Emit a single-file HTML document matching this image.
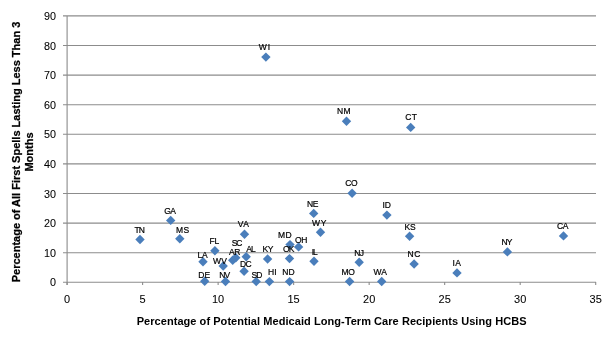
<!DOCTYPE html>
<html><head><meta charset="utf-8"><style>
html,body{margin:0;padding:0;background:#fff;}
svg{display:block;will-change:transform;}
text{font-family:"Liberation Sans",sans-serif;fill:#000;}
.tk{font-size:10px;stroke:#000;stroke-width:0.06px;}
.dl{font-size:8.5px;stroke:#000;stroke-width:0.2px;}
.at{font-size:11px;font-weight:bold;}
.yt{stroke:#000;stroke-width:0.25px;}
</style></head><body>
<svg width="614" height="339" viewBox="0 0 614 339">
<rect width="614" height="339" fill="#fff"/>
<line x1="63" y1="282.30" x2="596" y2="282.30" stroke="#8c8c8c" stroke-width="1.1"/>
<line x1="63" y1="252.70" x2="596" y2="252.70" stroke="#8c8c8c" stroke-width="1.1"/>
<line x1="63" y1="223.10" x2="596" y2="223.10" stroke="#8c8c8c" stroke-width="1.1"/>
<line x1="63" y1="193.50" x2="596" y2="193.50" stroke="#8c8c8c" stroke-width="1.1"/>
<line x1="63" y1="163.90" x2="596" y2="163.90" stroke="#8c8c8c" stroke-width="1.1"/>
<line x1="63" y1="134.30" x2="596" y2="134.30" stroke="#8c8c8c" stroke-width="1.1"/>
<line x1="63" y1="104.70" x2="596" y2="104.70" stroke="#8c8c8c" stroke-width="1.1"/>
<line x1="63" y1="75.10" x2="596" y2="75.10" stroke="#8c8c8c" stroke-width="1.1"/>
<line x1="63" y1="45.50" x2="596" y2="45.50" stroke="#8c8c8c" stroke-width="1.1"/>
<line x1="63" y1="15.90" x2="596" y2="15.90" stroke="#8c8c8c" stroke-width="1.1"/>
<line x1="67.1" y1="15.90" x2="67.1" y2="285" stroke="#8c8c8c" stroke-width="1.1"/>
<line x1="67.10" y1="282" x2="67.10" y2="285" stroke="#8c8c8c" stroke-width="1.1"/>
<line x1="142.61" y1="282" x2="142.61" y2="285" stroke="#8c8c8c" stroke-width="1.1"/>
<line x1="218.13" y1="282" x2="218.13" y2="285" stroke="#8c8c8c" stroke-width="1.1"/>
<line x1="293.64" y1="282" x2="293.64" y2="285" stroke="#8c8c8c" stroke-width="1.1"/>
<line x1="369.16" y1="282" x2="369.16" y2="285" stroke="#8c8c8c" stroke-width="1.1"/>
<line x1="444.67" y1="282" x2="444.67" y2="285" stroke="#8c8c8c" stroke-width="1.1"/>
<line x1="520.19" y1="282" x2="520.19" y2="285" stroke="#8c8c8c" stroke-width="1.1"/>
<line x1="595.70" y1="282" x2="595.70" y2="285" stroke="#8c8c8c" stroke-width="1.1"/>
<text transform="translate(56 286) scale(1.08 1)" text-anchor="end" class="tk">0</text>
<text transform="translate(56 257) scale(1.08 1)" text-anchor="end" class="tk">10</text>
<text transform="translate(56 227) scale(1.08 1)" text-anchor="end" class="tk">20</text>
<text transform="translate(56 198) scale(1.08 1)" text-anchor="end" class="tk">30</text>
<text transform="translate(56 168) scale(1.08 1)" text-anchor="end" class="tk">40</text>
<text transform="translate(56 138) scale(1.08 1)" text-anchor="end" class="tk">50</text>
<text transform="translate(56 109) scale(1.08 1)" text-anchor="end" class="tk">60</text>
<text transform="translate(56 79) scale(1.08 1)" text-anchor="end" class="tk">70</text>
<text transform="translate(56 50) scale(1.08 1)" text-anchor="end" class="tk">80</text>
<text transform="translate(56 20) scale(1.08 1)" text-anchor="end" class="tk">90</text>
<text transform="translate(67.1 303) scale(1.1 1)" text-anchor="middle" class="tk">0</text>
<text transform="translate(142.6 303) scale(1.1 1)" text-anchor="middle" class="tk">5</text>
<text transform="translate(218.1 303) scale(1.1 1)" text-anchor="middle" class="tk">10</text>
<text transform="translate(293.6 303) scale(1.1 1)" text-anchor="middle" class="tk">15</text>
<text transform="translate(369.2 303) scale(1.1 1)" text-anchor="middle" class="tk">20</text>
<text transform="translate(444.7 303) scale(1.1 1)" text-anchor="middle" class="tk">25</text>
<text transform="translate(520.2 303) scale(1.1 1)" text-anchor="middle" class="tk">30</text>
<text transform="translate(595.7 303) scale(1.1 1)" text-anchor="middle" class="tk">35</text>
<path d="M140.0 234.8L144.7 239.5L140.0 244.2L135.3 239.5Z" fill="#4A7EBB"/>
<path d="M170.7 215.7L175.4 220.4L170.7 225.1L166.0 220.4Z" fill="#4A7EBB"/>
<path d="M179.8 234.0L184.5 238.7L179.8 243.4L175.1 238.7Z" fill="#4A7EBB"/>
<path d="M214.9 246.0L219.6 250.7L214.9 255.4L210.2 250.7Z" fill="#4A7EBB"/>
<path d="M203.0 257.0L207.7 261.7L203.0 266.4L198.3 261.7Z" fill="#4A7EBB"/>
<path d="M204.7 276.6L209.4 281.3L204.7 286.0L200.0 281.3Z" fill="#4A7EBB"/>
<path d="M223.2 261.3L227.9 266.0L223.2 270.7L218.5 266.0Z" fill="#4A7EBB"/>
<path d="M225.5 276.8L230.2 281.5L225.5 286.2L220.8 281.5Z" fill="#4A7EBB"/>
<path d="M235.8 253.0L240.5 257.7L235.8 262.4L231.1 257.7Z" fill="#4A7EBB"/>
<path d="M232.7 255.6L237.4 260.3L232.7 265.0L228.0 260.3Z" fill="#4A7EBB"/>
<path d="M246.2 252.0L250.9 256.7L246.2 261.4L241.5 256.7Z" fill="#4A7EBB"/>
<path d="M244.1 266.5L248.8 271.2L244.1 275.9L239.4 271.2Z" fill="#4A7EBB"/>
<path d="M244.5 229.6L249.2 234.3L244.5 239.0L239.8 234.3Z" fill="#4A7EBB"/>
<path d="M256.2 276.9L260.9 281.6L256.2 286.3L251.5 281.6Z" fill="#4A7EBB"/>
<path d="M269.4 276.9L274.1 281.6L269.4 286.3L264.7 281.6Z" fill="#4A7EBB"/>
<path d="M289.6 276.9L294.3 281.6L289.6 286.3L284.9 281.6Z" fill="#4A7EBB"/>
<path d="M267.6 254.3L272.3 259.0L267.6 263.7L262.9 259.0Z" fill="#4A7EBB"/>
<path d="M289.5 253.9L294.2 258.6L289.5 263.3L284.8 258.6Z" fill="#4A7EBB"/>
<path d="M290.0 239.9L294.7 244.6L290.0 249.3L285.3 244.6Z" fill="#4A7EBB"/>
<path d="M298.6 242.2L303.3 246.9L298.6 251.6L293.9 246.9Z" fill="#4A7EBB"/>
<path d="M314.0 256.6L318.7 261.3L314.0 266.0L309.3 261.3Z" fill="#4A7EBB"/>
<path d="M313.7 208.7L318.4 213.4L313.7 218.1L309.0 213.4Z" fill="#4A7EBB"/>
<path d="M320.5 227.6L325.2 232.3L320.5 237.0L315.8 232.3Z" fill="#4A7EBB"/>
<path d="M352.1 188.6L356.8 193.3L352.1 198.0L347.4 193.3Z" fill="#4A7EBB"/>
<path d="M359.2 257.6L363.9 262.3L359.2 267.0L354.5 262.3Z" fill="#4A7EBB"/>
<path d="M349.6 276.8L354.3 281.5L349.6 286.2L344.9 281.5Z" fill="#4A7EBB"/>
<path d="M381.7 276.8L386.4 281.5L381.7 286.2L377.0 281.5Z" fill="#4A7EBB"/>
<path d="M386.9 210.4L391.6 215.1L386.9 219.8L382.2 215.1Z" fill="#4A7EBB"/>
<path d="M409.6 231.5L414.3 236.2L409.6 240.9L404.9 236.2Z" fill="#4A7EBB"/>
<path d="M414.1 259.3L418.8 264.0L414.1 268.7L409.4 264.0Z" fill="#4A7EBB"/>
<path d="M265.9 52.4L270.6 57.1L265.9 61.8L261.2 57.1Z" fill="#4A7EBB"/>
<path d="M346.5 116.5L351.2 121.2L346.5 125.9L341.8 121.2Z" fill="#4A7EBB"/>
<path d="M410.7 122.7L415.4 127.4L410.7 132.1L406.0 127.4Z" fill="#4A7EBB"/>
<path d="M457.0 268.2L461.7 272.9L457.0 277.6L452.3 272.9Z" fill="#4A7EBB"/>
<path d="M507.4 247.2L512.1 251.9L507.4 256.6L502.7 251.9Z" fill="#4A7EBB"/>
<path d="M563.5 231.2L568.2 235.9L563.5 240.6L558.8 235.9Z" fill="#4A7EBB"/>
<text x="134.5" y="233" class="dl" style="letter-spacing:-1.00px">TN</text>
<text x="164.3" y="214" class="dl" style="letter-spacing:-0.64px">GA</text>
<text x="176.0" y="233" class="dl" style="letter-spacing:0.40px">MS</text>
<text x="209.6" y="244" class="dl" style="letter-spacing:-0.24px">FL</text>
<text x="197.4" y="258" class="dl" style="letter-spacing:0.00px">LA</text>
<text x="198.3" y="278" class="dl" style="letter-spacing:0.00px">DE</text>
<text x="213.1" y="264" class="dl" style="letter-spacing:0.24px">WV</text>
<text x="219.3" y="278" class="dl" style="letter-spacing:-0.96px">NV</text>
<text x="231.7" y="246" class="dl" style="letter-spacing:-1.00px">SC</text>
<text x="229.1" y="255" class="dl" style="letter-spacing:-0.48px">AR</text>
<text x="246.2" y="252" class="dl" style="letter-spacing:-0.96px">AL</text>
<text x="240.0" y="267" class="dl" style="letter-spacing:-0.56px">DC</text>
<text x="237.8" y="227" class="dl" style="letter-spacing:0.48px">VA</text>
<text x="251.5" y="278" class="dl" style="letter-spacing:-1.00px">SD</text>
<text x="268.1" y="275" class="dl" style="letter-spacing:0.08px">HI</text>
<text x="282.2" y="275" class="dl" style="letter-spacing:0.08px">ND</text>
<text x="262.5" y="252" class="dl" style="letter-spacing:-0.40px">KY</text>
<text x="283.1" y="252" class="dl" style="letter-spacing:-0.88px">OK</text>
<text x="278.1" y="238" class="dl" style="letter-spacing:0.32px">MD</text>
<text x="295.1" y="243" class="dl" style="letter-spacing:-0.48px">OH</text>
<text x="311.7" y="255" class="dl" style="letter-spacing:-1.00px">IL</text>
<text x="307.0" y="207" class="dl" style="letter-spacing:-0.48px">NE</text>
<text x="311.9" y="226" class="dl" style="letter-spacing:0.72px">WY</text>
<text x="345.3" y="186" class="dl" style="letter-spacing:-0.32px">CO</text>
<text x="354.2" y="256" class="dl" style="letter-spacing:-0.56px">NJ</text>
<text x="341.4" y="275" class="dl" style="letter-spacing:-0.16px">MO</text>
<text x="373.5" y="275" class="dl" style="letter-spacing:0.00px">WA</text>
<text x="382.4" y="208" class="dl" style="letter-spacing:0.08px">ID</text>
<text x="404.6" y="230" class="dl" style="letter-spacing:-0.32px">KS</text>
<text x="407.6" y="257" class="dl" style="letter-spacing:0.40px">NC</text>
<text x="258.7" y="50" class="dl" style="letter-spacing:1.12px">WI</text>
<text x="337.0" y="114" class="dl" style="letter-spacing:0.40px">NM</text>
<text x="405.2" y="120" class="dl" style="letter-spacing:0.40px">CT</text>
<text x="452.6" y="266" class="dl" style="letter-spacing:0.32px">IA</text>
<text x="501.5" y="245" class="dl" style="letter-spacing:-1.00px">NY</text>
<text x="557.1" y="229" class="dl" style="letter-spacing:-0.48px">CA</text>
<text x="331.6" y="325" text-anchor="middle" class="at" style="letter-spacing:0.055px">Percentage of Potential Medicaid Long-Term Care Recipients Using HCBS</text>
<text transform="translate(19.5 152) rotate(-90)" text-anchor="middle" class="at yt">Percentage of All First Spells Lasting Less Than 3</text>
<text transform="translate(33 152) rotate(-90)" text-anchor="middle" class="at yt">Months</text>
</svg>
</body></html>
